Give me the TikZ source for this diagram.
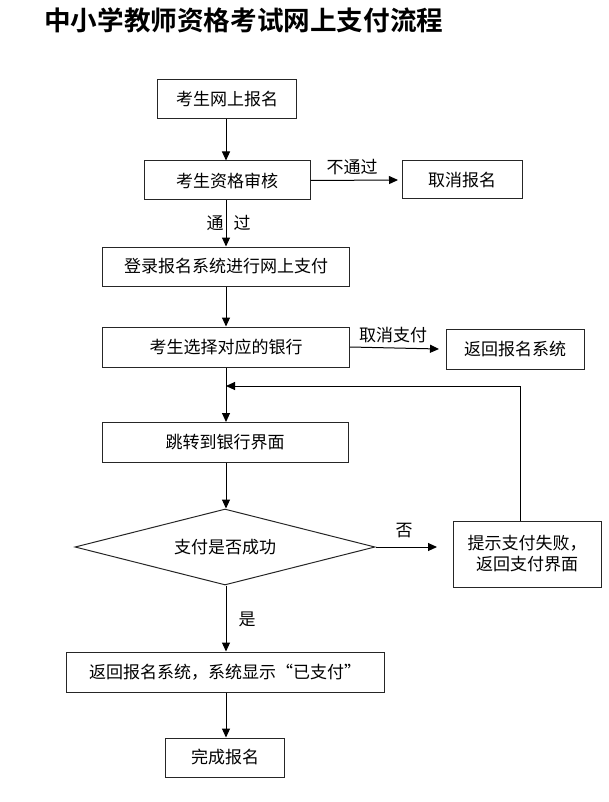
\documentclass[tikz,border=0pt]{standalone}
\usepackage{fontspec}
\setmainfont{Noto Sans CJK SC}
\newfontfamily\titlefont{Noto Sans CJK SC Bold}
\usetikzlibrary{arrows.meta,shapes.geometric}
\begin{document}
\begin{tikzpicture}[x=1pt,y=-1pt,
  box/.style={draw=black!85,line width=1pt,minimum height=39pt,inner sep=0pt,font=\fontsize{17}{20}\selectfont},
  lbl/.style={font=\fontsize{17}{20}\selectfont,inner sep=0pt},
  arr/.style={line width=1pt,-{Triangle[length=9pt,width=8pt]}},
  ln/.style={line width=1pt}]
\useasboundingbox (0,0) rectangle (608,802);
\node[anchor=west,font=\titlefont\fontsize{26.6}{30}\selectfont,inner sep=0pt] (title) at (44,20) {中小学教师资格考试网上支付流程};
\node[box,minimum width=139pt] (n1) at (227,99) {考生网上报名};
\node[box,minimum width=166pt] (n2) at (227,180.5) {考生资格审核};
\node[box,minimum width=120pt,minimum height=38pt] (n3) at (462,180) {取消报名};
\node[box,minimum width=247pt] (n4) at (226,266.5) {登录报名系统进行网上支付};
\node[box,minimum width=247pt,minimum height=40pt] (n5) at (226,347) {考生选择对应的银行};
\node[box,minimum width=138pt,minimum height=40pt] (n6) at (515,349) {返回报名系统};
\node[box,minimum width=246pt,minimum height=40pt] (n7) at (225,442.5) {跳转到银行界面};
\node[draw=black!85,line width=1pt,diamond,aspect=3.95,minimum width=300pt,minimum height=76pt,inner sep=0pt,font=\fontsize{17}{20}\selectfont] (d) at (225,547) {支付是否成功};
\node[box,minimum width=148pt,minimum height=66pt,align=center] (n9) at (527,554) {提示支付失败，\\[1pt]返回支付界面};
\node[box,minimum width=318pt,minimum height=40pt] (n10) at (225,672) {返回报名系统，系统显示“已支付”};
\node[box,minimum width=119pt] (n11) at (225,757.5) {完成报名};
\coordinate (t3) at (398,180);
\coordinate (t6) at (439,349);
\coordinate (t9) at (437,547);
\coordinate (lc) at (520,386);
\coordinate (lt) at (226,386);
\draw[arr] (n1.south -| 226,0) -- (n2.north -| 226,0);
\draw[arr] (n2.east) -- (t3);
\draw[arr] (n2.south -| 226,0) -- (n4.north -| 226,0);
\draw[arr] (n4.south -| 226,0) -- (n5.north -| 226,0);
\draw[arr] (n5.east) -- (t6);
\draw[arr] (n5.south -| 226,0) -- (n7.north -| 226,0);
\draw[arr] (n7.south -| 226,0) -- (d.north -| 226,0);
\draw[arr] (d.east) -- (t9);
\draw[arr] (d.south -| 226,0) -- (n10.north -| 226,0);
\draw[arr] (n10.south -| 226,0) -- (n11.north -| 226,0);
\draw[ln] (n9.north -| lc) -- (lc);
\draw[arr] (lc) -- (lt);
\node[lbl] (l1) at (352,167) {不通过};
\node[lbl] (l2a) at (215,223) {通};
\node[lbl] (l2b) at (242,223) {过};
\node[lbl] (l3) at (393,335) {取消支付};
\node[lbl] (l4) at (404,531) {否};
\node[lbl] (l5) at (247,619) {是};
\end{tikzpicture}
\end{document}
